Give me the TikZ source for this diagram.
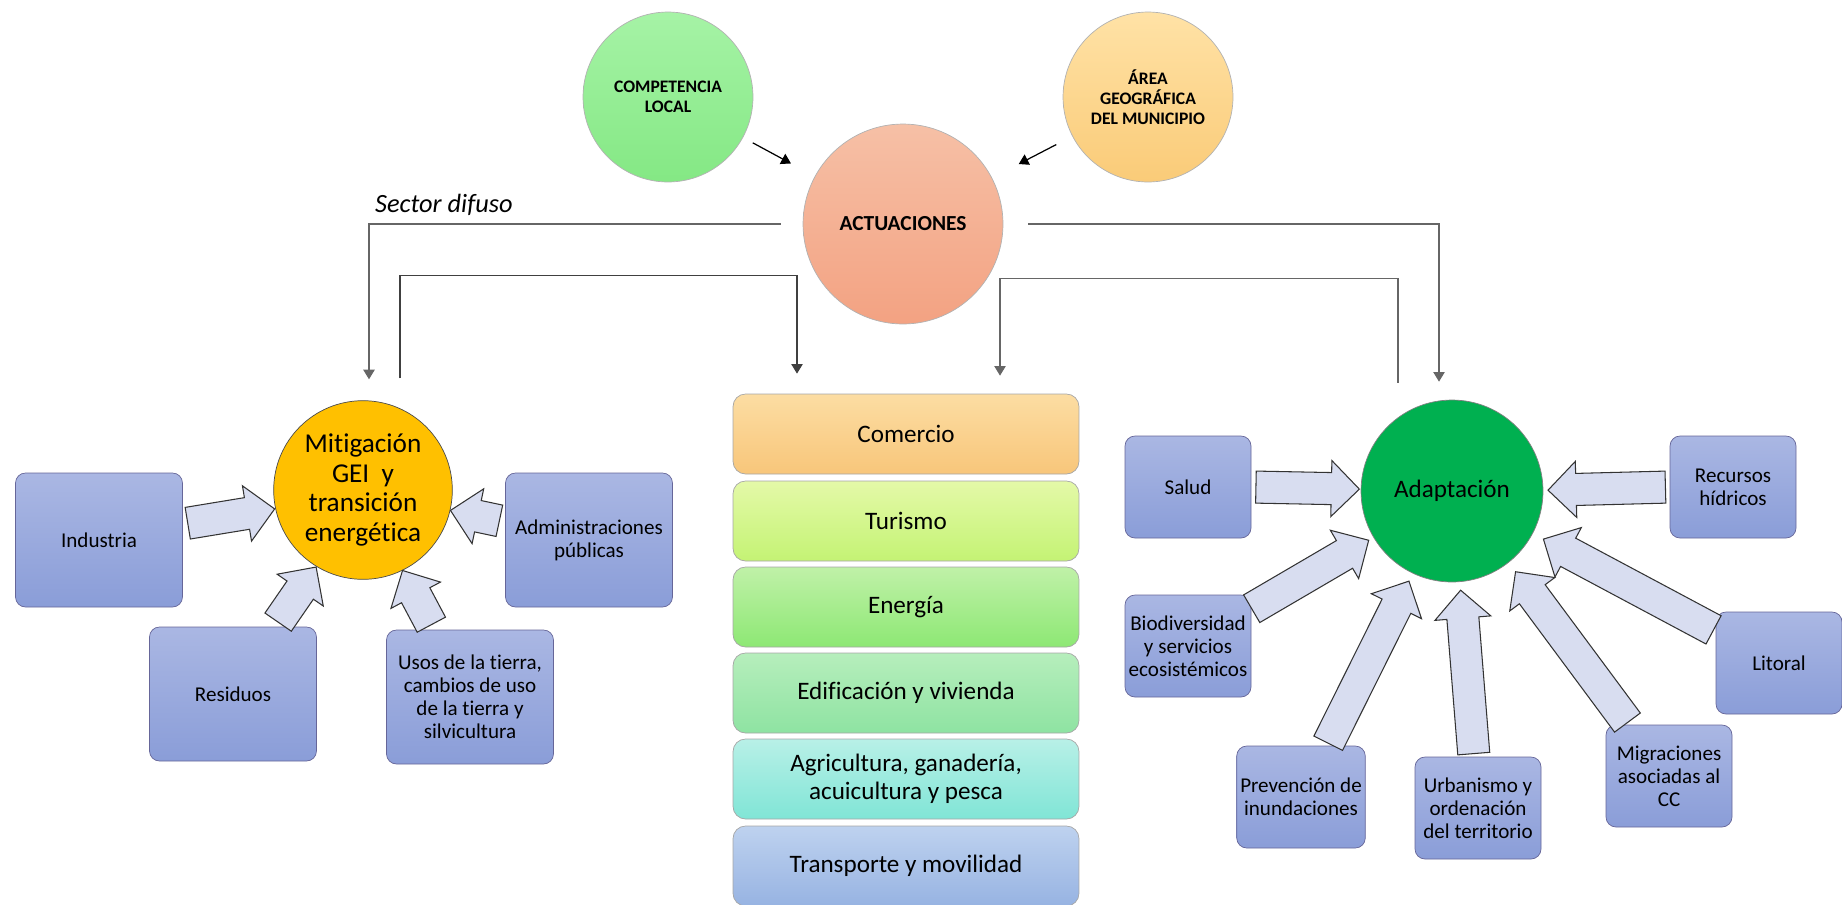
\documentclass[tikz,border=0pt]{standalone}
\usepackage{fontspec}
\setmainfont{Carlito}[Ligatures=NoCommon]
\usetikzlibrary{calc,shapes.arrows,arrows.meta}
\definecolor{boxtop}{HTML}{AAB7E3}
\definecolor{boxbot}{HTML}{8A9DD8}
\definecolor{arrfill}{HTML}{D8DDF0}
\definecolor{comptop}{HTML}{A6F3A6}
\definecolor{compbot}{HTML}{84E884}
\definecolor{areatop}{HTML}{FFE2A6}
\definecolor{areabot}{HTML}{FACB78}
\definecolor{acttop}{HTML}{F6C0A6}
\definecolor{actbot}{HTML}{F3A282}
\definecolor{mitcol}{HTML}{FFC000}
\definecolor{adapcol}{HTML}{00B050}
\definecolor{comtop}{HTML}{FCDDA3}
\definecolor{combot}{HTML}{F8C67A}
\definecolor{turtop}{HTML}{E4F9A8}
\definecolor{turbot}{HTML}{C4F374}
\definecolor{enetop}{HTML}{C0F1A8}
\definecolor{enebot}{HTML}{8DE874}
\definecolor{editop}{HTML}{B6EEBC}
\definecolor{edibot}{HTML}{8EE3A2}
\definecolor{agrtop}{HTML}{B8F0E7}
\definecolor{agrbot}{HTML}{80E5D6}
\definecolor{tratop}{HTML}{BED2EF}
\definecolor{trabot}{HTML}{97B3E2}
\newcommand{\fatarrow}[2]{%
  \path let \p1=(#1), \p2=(#2), \n1={veclen(\x2-\x1,\y2-\y1)+1pt} in
    (\p1) -- node[fat, minimum height=\n1, pos=0.475] {} (\p2);}

\begin{document}
\begin{tikzpicture}[
                    x = 0.02cm,
                    y = -0.02cm,
                    topcirc/.style = {circle, draw=gray!60, minimum size=3.4cm, align=center,
                                      font=\fontsize{10}{11.5}\selectfont\bfseries},
                    sector/.style  = {draw=gray!70, rounded corners=0.25cm, minimum width=6.92cm,
                                      minimum height=1.6cm, align=center,
                                      font=\fontsize{14.3}{16}\selectfont},
                    bluebox/.style = {draw=gray!80!blue, rounded corners=0.2cm, top color=boxtop,
                                      bottom color=boxbot, align=center, inner sep=2pt,
                                      font=\fontsize{12}{13}\selectfont},
                    bigbox/.style  = {bluebox, minimum width=3.34cm, minimum height=2.68cm},
                    smallbox/.style= {bluebox, minimum width=2.52cm, minimum height=2.04cm},
                    conn/.style    = {draw=gray!80!black, line width=0.7pt,
                                      -{Triangle[width=6.5pt,length=5.5pt]}},
                    fat/.style     = {single arrow, draw=black!80, line width=0.6pt, fill=arrfill,
                                      inner xsep=0pt, inner ysep=0.31cm, single arrow head extend=0.24cm,
                                      single arrow tip angle=90,
                                      sloped, allow upside down}]

\useasboundingbox (0,0) rectangle (1842,904);

%top circles
\node [topcirc, top color=comptop, bottom color=compbot] (comp) at (668,97) {COMPETENCIA\\LOCAL};
\node [topcirc, top color=areatop, bottom color=areabot] (area) at (1148,97) {ÁREA\\GEOGRÁFICA\\DEL MUNICIPIO};
\node [circle, draw=gray!60, minimum size=4cm, top color=acttop, bottom color=actbot,
       font=\fontsize{12.2}{14}\selectfont\bfseries] (act) at (903,224) {ACTUACIONES};

\draw [conn, draw=black, shorten <=0.22cm, shorten >=0.54cm] (comp) -- (act);
\draw [conn, draw=black, shorten <=0.36cm, shorten >=0.6cm] (area) -- (act);

%main circles
\node [circle, draw=black!70, fill=mitcol, minimum size=3.52cm, align=center,
       font=\fontsize{15.5}{17}\selectfont] (mit) at (363,490) {Mitigación\\GEI\ \ y\\transición\\energética};
\node [circle, draw=black!50, fill=adapcol, minimum size=3.64cm,
       font=\fontsize{14.3}{16}\selectfont] (adap) at (1452,491) {Adaptación};

%sectors
\node [sector, top color=comtop, bottom color=combot] (com) at (906,434) {Comercio};
\node [sector, top color=turtop, bottom color=turbot] (tur) at (906,521) {Turismo};
\node [sector, top color=enetop, bottom color=enebot] (ene) at (906,607) {Energía};
\node [sector, top color=editop, bottom color=edibot] (edi) at (906,693) {Edificación y vivienda};
\node [sector, top color=agrtop, bottom color=agrbot] (agr) at (906,779) {Agricultura, ganadería,\\acuicultura y pesca};
\node [sector, top color=tratop, bottom color=trabot] (tra) at (906,866) {Transporte y movilidad};

\node [anchor=base west, font=\fontsize{15}{17}\selectfont\itshape] (dif) at (369,212) {Sector difuso};

%links
\draw [conn] ($(act.west)+(-22,0)$) -| ($(mit.north)+(6,-21)$);
\draw [conn, draw=black!75] ($(mit.north)+(37,-22)$) -- ++(0,-103) -| ($(com.north)+(-109,-20)$);
\draw [conn] ($(act.east)+(25,0)$) -| ($(adap.north)+(-13,-18)$);
\draw [conn] ($(adap.north)+(-54,-17)$) -- ++(0,-104) -| ($(com.north)+(94,-18)$);

%mitigation boxes
\node [bigbox] (ind) at (99,540) {Industria};
\node [bigbox] (adm) at (589,540) {Administraciones\\públicas};
\node [bigbox] (res) at (233,694) {Residuos};
\node [bigbox] (uso) at (470,697) {Usos de la tierra,\\cambios de uso\\de la tierra y\\silvicultura};

\fatarrow{$(ind.east)+(0,-16)$}{$(mit.center)+(-95,20)$}
\fatarrow{$(adm.west)+(0,-18)$}{$(mit.center)+(95,22)$}
\fatarrow{$(res.north)+(42,0)$}{$(mit.center)+(-51,83)$}
\fatarrow{$(uso.north)+(-36,0)$}{$(mit.center)+(43,87)$}

%adaptation boxes
\node [smallbox] (sal) at (1188,487) {Salud};
\node [smallbox] (rec) at (1733,487) {Recursos\\hídricos};
\node [smallbox] (bio) at (1188,646) {Biodiversidad\\y servicios\\ecosistémicos};
\node [smallbox] (pre) at (1301,797) {Prevención de\\inundaciones};
\node [smallbox] (urb) at (1478,808) {Urbanismo y\\ordenación\\del territorio};
\node [smallbox] (mig) at (1669,776) {Migraciones\\asociadas al\\CC};
\node [smallbox] (lit) at (1779,663) {Litoral};

\fatarrow{sal.east}{$(adap.center)+(-99,-2)$}
\fatarrow{rec.west}{$(adap.center)+(102,-1)$}
\fatarrow{$(bio.north east)+(-3,16)$}{$(adap.center)+(-88,52)$}
\fatarrow{$(pre.north)+(26,0)$}{$(adap.center)+(-45,94)$}
\fatarrow{$(urb.north)+(-4,0)$}{$(adap.center)+(9,104)$}
\fatarrow{$(mig.north)+(-40,0)$}{$(adap.center)+(66,84)$}
\fatarrow{$(lit.west)+(0,-32)$}{$(adap.center)+(95,50)$}

\end{tikzpicture}
\end{document}
